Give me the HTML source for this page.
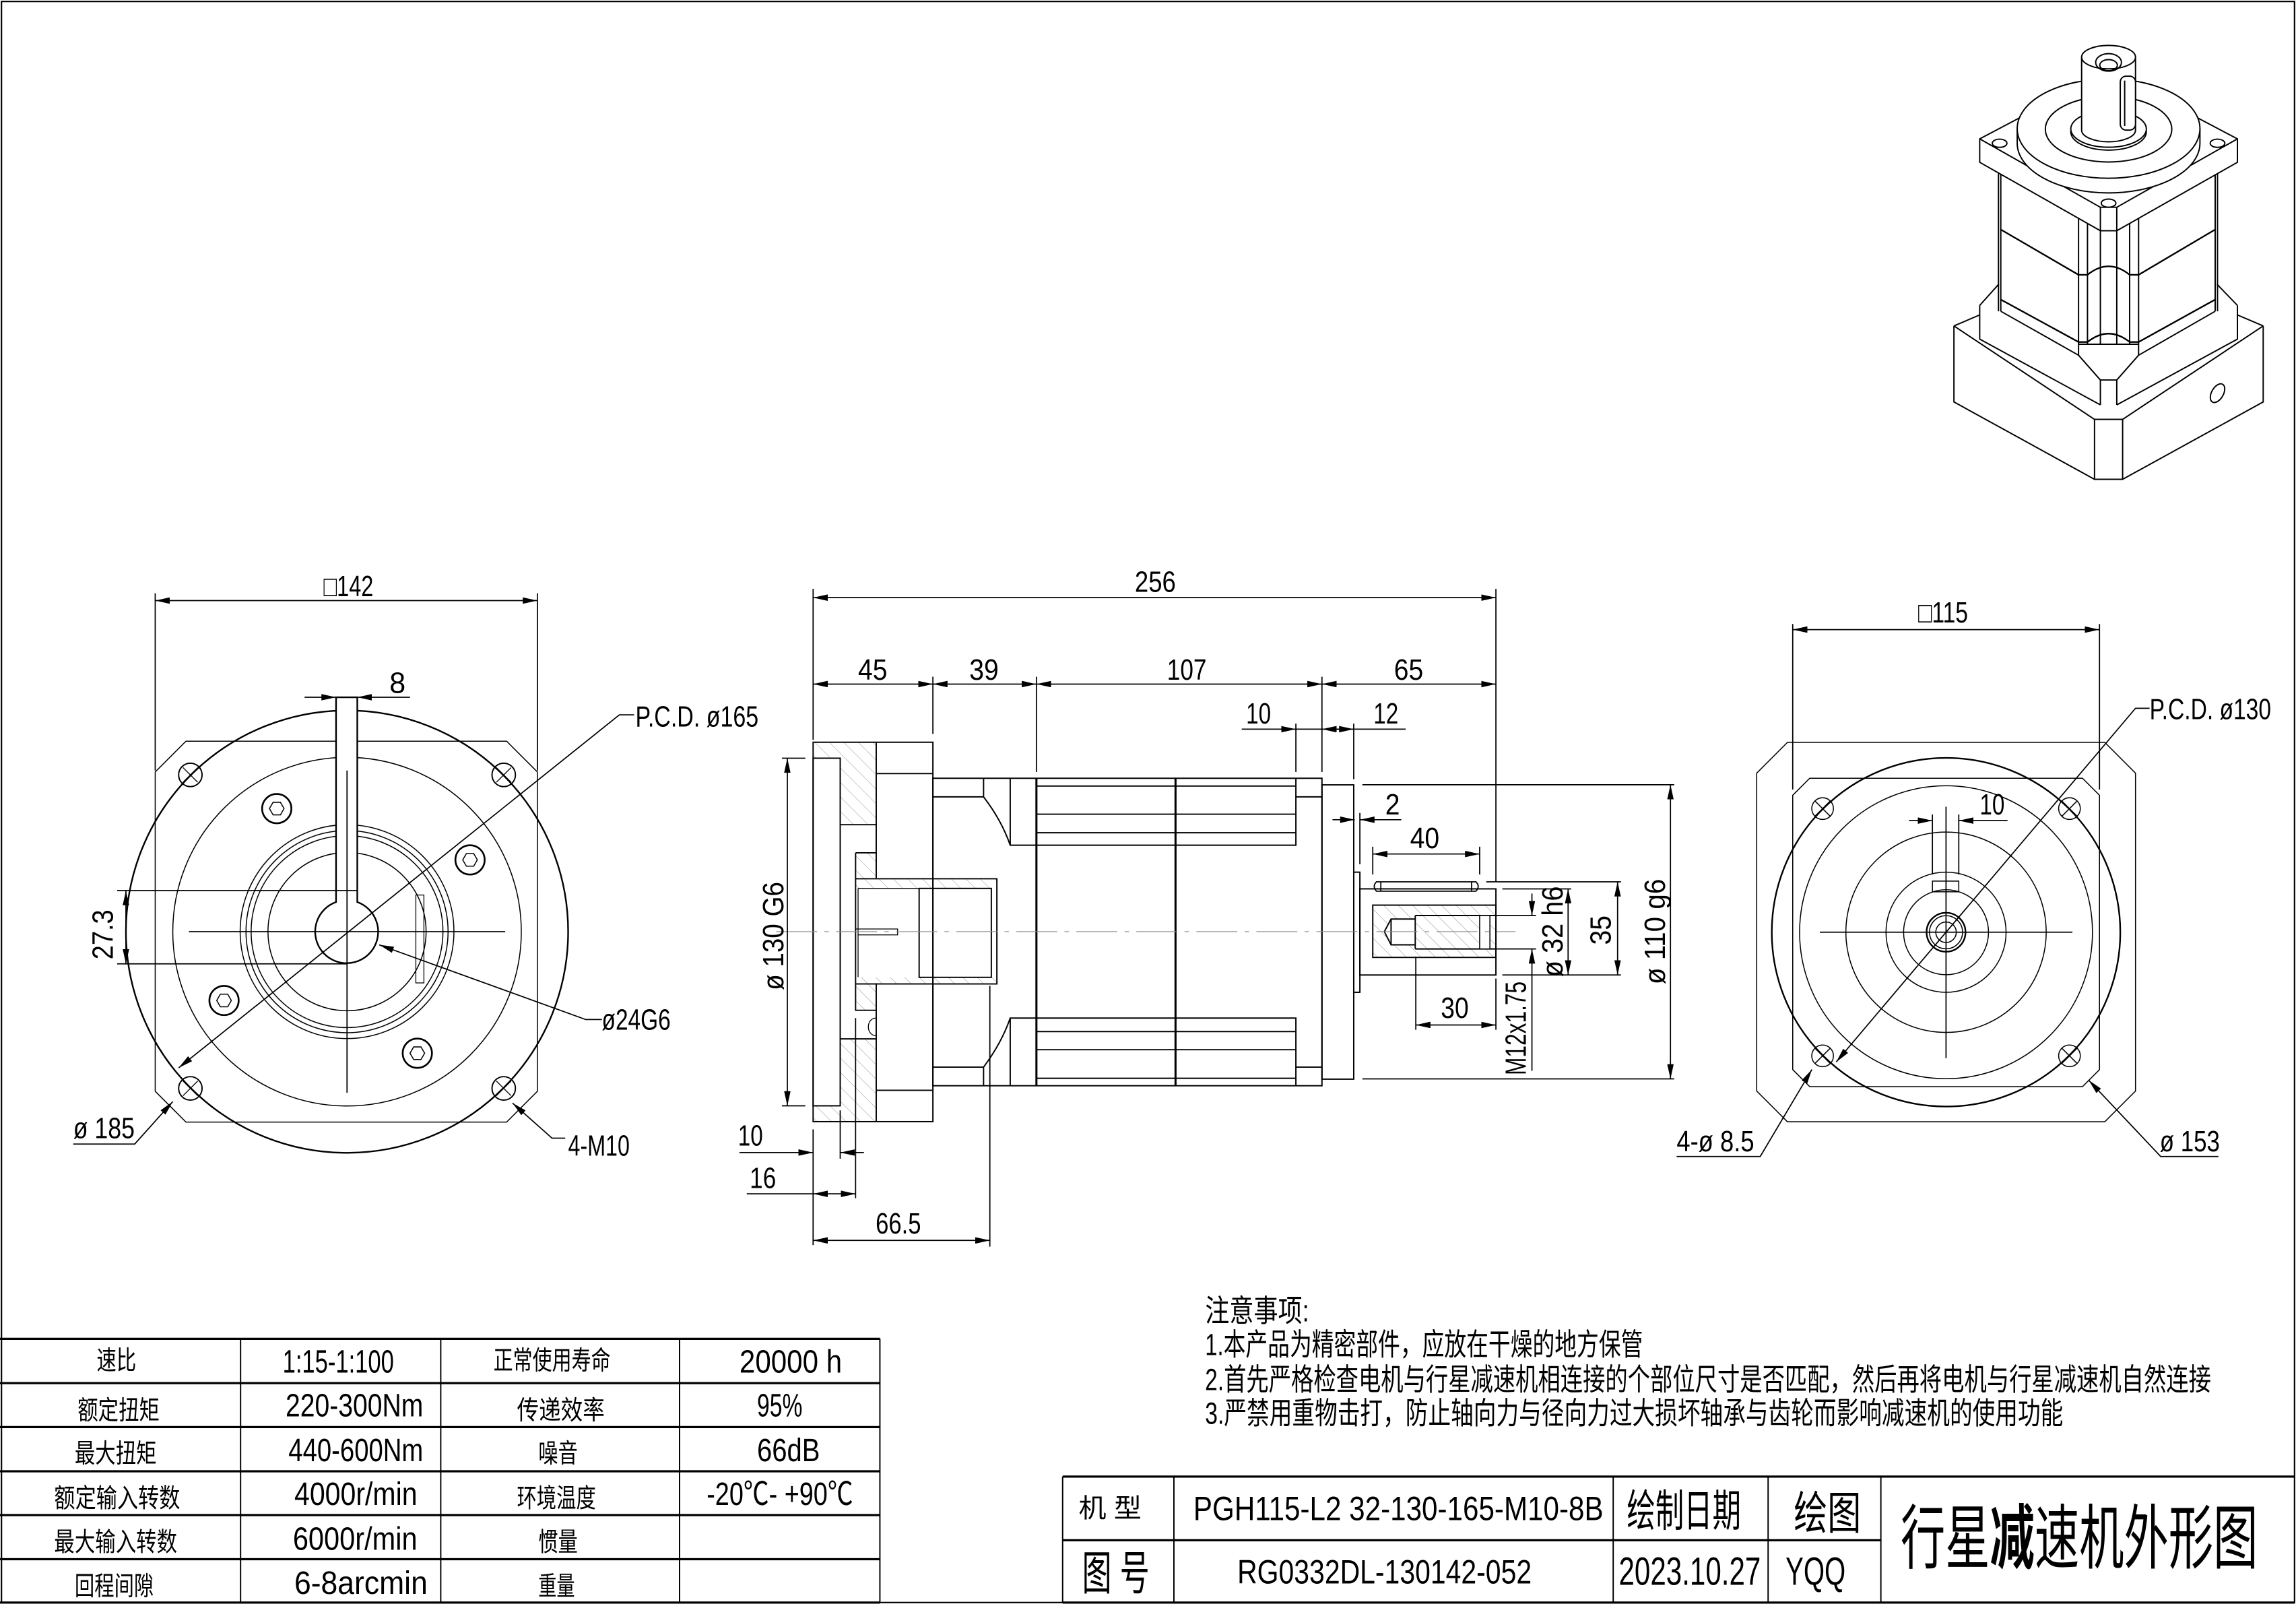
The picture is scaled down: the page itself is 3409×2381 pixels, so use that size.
<!DOCTYPE html>
<html><head><meta charset="utf-8"><style>
html,body{margin:0;padding:0;background:#fff}
svg{display:block}
text{font-family:"Liberation Sans","Noto Sans CJK SC",sans-serif;fill:#000}
</style></head><body>
<svg xmlns="http://www.w3.org/2000/svg" width="3409" height="2381" viewBox="0 0 1568 1095" preserveAspectRatio="none">
<defs>
<marker id="a" markerUnits="userSpaceOnUse" markerWidth="12" markerHeight="6" refX="10" refY="2.2" orient="auto-start-reverse"><path d="M0,0 L10,2.2 L0,4.4 z" fill="#000"/></marker>
<pattern id="h" patternUnits="userSpaceOnUse" width="7" height="7" patternTransform="rotate(-45)"><line x1="0" y1="0" x2="0" y2="7" stroke="#999" stroke-width="0.5"/></pattern>
</defs>
<rect x="0" y="0" width="1568" height="1095" fill="#fff"/>
<rect x="1" y="1" width="1566" height="1093" fill="none" stroke="#000" stroke-width="1"/>

<g fill="none" stroke="#000" stroke-width="0.9">
<!-- ============ LEFT VIEW ============ -->
<polygon points="127,506 346,506 367,527 367,745 346,766 127,766 106,745 106,527" stroke-width="0.7"/>
<circle cx="237" cy="636" r="151" stroke-width="1.1"/>
<circle cx="237" cy="636" r="119" stroke-width="0.7"/>
<g stroke-width="0.9">
<circle cx="130" cy="529" r="8"/><circle cx="344" cy="529" r="8"/><circle cx="130" cy="743" r="8"/><circle cx="344" cy="743" r="8"/>
<path d="M125,524 l10,10 M135,524 l-10,10 M339,524 l10,10 M349,524 l-10,10 M125,738 l10,10 M135,738 l-10,10 M339,738 l10,10 M349,738 l-10,10" stroke-width="0.6"/>
</g>
<g stroke-width="1.2">
<circle cx="189" cy="552" r="10"/><circle cx="321" cy="587" r="10"/><circle cx="153" cy="683" r="10"/><circle cx="285" cy="719" r="10"/>
</g>
<g stroke-width="0.7">
<polygon points="194,552 191.5,556.3 186.5,556.3 184,552 186.5,547.7 191.5,547.7"/>
<polygon points="326,587 323.5,591.3 318.5,591.3 316,587 318.5,582.7 323.5,582.7"/>
<polygon points="158,683 155.5,687.3 150.5,687.3 148,683 150.5,678.7 155.5,678.7"/>
<polygon points="290,719 287.5,723.3 282.5,723.3 280,719 282.5,714.7 287.5,714.7"/>
</g>
<g stroke-width="0.7">
<circle cx="237" cy="636" r="73"/><circle cx="237" cy="636" r="69"/><circle cx="237" cy="636" r="65.5"/><circle cx="237" cy="636" r="54"/>
</g>
<rect x="284" y="611" width="5.5" height="60" stroke-width="0.6"/>
<path d="M229.5,476 L229.5,615.8 A21.5,21.5 0 1 0 244,615.8 L244,476 Z" stroke-width="1.1" fill="#fff"/>
<line x1="237" y1="527" x2="237" y2="610" stroke-width="0.7"/>
<line x1="129" y1="636" x2="345" y2="636" stroke-width="0.8"/>
<line x1="237" y1="526" x2="237" y2="746" stroke-width="0.8"/>
<!-- dims left -->
<line x1="106" y1="405" x2="106" y2="526" stroke-width="0.8"/>
<line x1="367" y1="405" x2="367" y2="526" stroke-width="0.8"/>
<line x1="106" y1="410" x2="367" y2="410" stroke-width="0.8" marker-start="url(#a)" marker-end="url(#a)"/>
<line x1="208" y1="476" x2="229.5" y2="476" stroke-width="0.8" marker-end="url(#a)"/>
<line x1="280" y1="476" x2="244" y2="476" stroke-width="0.8" marker-end="url(#a)"/>
<line x1="80" y1="608" x2="244" y2="608" stroke-width="0.8"/>
<line x1="80" y1="658" x2="237" y2="658" stroke-width="0.8"/>
<line x1="86" y1="608" x2="86" y2="658" stroke-width="0.8" marker-start="url(#a)" marker-end="url(#a)"/>
<polyline points="122,729 423,488 433,488" stroke-width="0.8" marker-start="url(#a)"/>
<polyline points="259,645 400,696 411,696" stroke-width="0.8" marker-start="url(#a)"/>
<polyline points="118,752 92,781 50,781" stroke-width="0.8" marker-start="url(#a)"/>
<polyline points="350,753 377,777 386,777" stroke-width="0.8" marker-start="url(#a)"/>

<!-- ============ MIDDLE VIEW ============ -->
<path d="M555.3,506.7 L598.4,506.7 L598.4,563 L573.8,563 L573.8,517.6 L555.3,517.6 Z M555.3,754.9 L573.8,754.9 L573.8,709.2 L598.4,709.2 L598.4,765.7 L555.3,765.7 Z M584.3,582.2 L598.4,582.2 L598.4,599.9 L680.8,599.9 L680.8,606.5 L584.3,606.5 Z M584.3,667.2 L680.8,667.2 L680.8,671.7 L598.4,671.7 L598.4,689.7 L584.3,689.7 Z" fill="url(#h)" stroke="none"/>
<rect x="555.3" y="506.7" width="81.8" height="259" stroke-width="0.9"/>
<rect x="555.3" y="517.6" width="18.5" height="237.3" stroke-width="0.9"/>
<path d="M598.4,506.7 V599.4 M598.4,671.2 V765.7 M573.8,563 H598.4 M573.8,709.2 H598.4 M598.4,528.1 H637.1 M598.4,744.3 H637.1" stroke-width="0.9"/>
<path d="M584.3,582.2 H598.4 M584.3,582.2 V689.7 H598.4 M584.3,599.9 H680.8 V671.7 H584.3" stroke-width="0.9"/>
<rect x="627.7" y="606.5" width="49.3" height="60.7" stroke-width="0.9"/>
<path d="M586,606.5 H677 M586,606.5 V667 M584.3,634.2 H613 V638.2 H586" stroke-width="0.6"/>
<path d="M598,695 a5,6 0 0 0 0,12" stroke-width="0.6"/>
<!-- body -->
<rect x="637.1" y="531.3" width="265.7" height="209.9" stroke-width="0.9"/>
<path d="M671.7,531.3 V544 H637.1 M671.7,544 Q684,560 689.9,577 M689.9,531.3 V577 H885 V531.3 M671.7,741.2 V728.5 H637.1 M671.7,728.5 Q684,712 689.9,695 M689.9,741.2 V695 H885 V741.2 M885,544 H902.8 M885,728.5 H902.8" stroke-width="0.9"/>
<path d="M707.8,531.3 V741.2 M802.8,531.3 V741.2" stroke-width="1.4"/>
<path d="M707.8,536.6 H885 M707.8,555.8 H885 M707.8,568.5 H885 M707.8,704.2 H885 M707.8,716.6 H885 M707.8,736.1 H885" stroke-width="0.9"/>
<rect x="902.8" y="535.8" width="21.7" height="200.9" stroke-width="0.9"/>
<rect x="924.5" y="595.4" width="4.2" height="82" stroke-width="0.9"/>
<!-- shaft -->
<rect x="928.7" y="606.8" width="92.9" height="58.8" stroke-width="0.9"/>
<path d="M940,602 H1008 Q1011,605 1008,608.4 H940 Q937,605 940,602 Z M943,602 V608.4 M1005,602 V608.4" stroke-width="0.8"/>
<rect x="937.5" y="617.9" width="84.1" height="35.7" fill="url(#h)" stroke-width="0.9"/>
<path d="M966.5,625 H1021 M966.5,647.8 H1021 M966.5,625 V647.8 M966.5,627.4 H950 L945.4,636 L950,645 H966.5 M950,627.4 V645" stroke-width="0.9" fill="#fff"/>
<rect x="1010.5" y="625" width="7" height="22.8" stroke-width="0.7" fill="#fff"/>
<line x1="530" y1="636" x2="1035" y2="636" stroke="#888" stroke-width="0.5" stroke-dasharray="28,5,3,5"/>
<!-- middle dims -->
<path d="M555.3,402 V505 M1021.6,402 V602 M637.1,462 V501 M707.8,462 V527 M902.8,462 V527 M885,494 V527 M924.5,494 V532 M928.7,555 V590" stroke-width="0.8"/>
<line x1="555.3" y1="408" x2="1021.6" y2="408" stroke-width="0.8" marker-start="url(#a)" marker-end="url(#a)"/>
<line x1="555.3" y1="467" x2="637.1" y2="467" stroke-width="0.8" marker-start="url(#a)" marker-end="url(#a)"/>
<line x1="637.1" y1="467" x2="707.8" y2="467" stroke-width="0.8" marker-start="url(#a)" marker-end="url(#a)"/>
<line x1="707.8" y1="467" x2="902.8" y2="467" stroke-width="0.8" marker-start="url(#a)" marker-end="url(#a)"/>
<line x1="902.8" y1="467" x2="1021.6" y2="467" stroke-width="0.8" marker-start="url(#a)" marker-end="url(#a)"/>
<line x1="848" y1="497.8" x2="885" y2="497.8" stroke-width="0.8" marker-end="url(#a)"/>
<line x1="960" y1="497.8" x2="902.8" y2="497.8" stroke-width="0.8" marker-end="url(#a)"/>
<line x1="885" y1="497.8" x2="902.8" y2="497.8" stroke-width="0.8"/>
<line x1="910" y1="497.8" x2="924.5" y2="497.8" stroke-width="0.8" marker-end="url(#a)"/>
<line x1="910" y1="559.6" x2="925.2" y2="559.6" stroke-width="0.8" marker-end="url(#a)"/>
<line x1="957" y1="559.6" x2="928.7" y2="559.6" stroke-width="0.8" marker-end="url(#a)"/>
<path d="M534,517.6 H550 M534,754.9 H550" stroke-width="0.8"/>
<line x1="537.7" y1="517.6" x2="537.7" y2="754.9" stroke-width="0.8" marker-start="url(#a)" marker-end="url(#a)"/>
<path d="M555.3,771 V850 M573.8,758 V791 M584.3,695 V818 M676,673 V851" stroke-width="0.8"/>
<line x1="505" y1="786.8" x2="555.3" y2="786.8" stroke-width="0.8" marker-end="url(#a)"/>
<line x1="590" y1="786.8" x2="573.8" y2="786.8" stroke-width="0.8" marker-end="url(#a)"/>
<line x1="510" y1="815" x2="555.3" y2="815" stroke-width="0.8"/>
<line x1="555.3" y1="815" x2="584.3" y2="815" stroke-width="0.8" marker-start="url(#a)" marker-end="url(#a)"/>
<line x1="555.3" y1="846.8" x2="676" y2="846.8" stroke-width="0.8" marker-start="url(#a)" marker-end="url(#a)"/>
<path d="M937.5,578 V597 M1010.5,578 V597 M966.9,653 V703 M1021.6,668 V703" stroke-width="0.8"/>
<line x1="937.5" y1="583" x2="1010.5" y2="583" stroke-width="0.8" marker-start="url(#a)" marker-end="url(#a)"/>
<line x1="966.9" y1="699.7" x2="1021.6" y2="699.7" stroke-width="0.8" marker-start="url(#a)" marker-end="url(#a)"/>
<path d="M1018,625 H1049 M1018,647.8 H1049 M1026,606.8 H1073 M1026,665.6 H1107 M1015,602 H1107 M930.4,535.7 H1143.4 M930.4,736.5 H1143.4" stroke-width="0.8"/>
<line x1="1046.2" y1="610" x2="1046.2" y2="625" stroke-width="0.8" marker-end="url(#a)"/>
<line x1="1046.2" y1="731" x2="1046.2" y2="647.8" stroke-width="0.8" marker-end="url(#a)"/>
<line x1="1070.9" y1="606.8" x2="1070.9" y2="665.6" stroke-width="0.8" marker-start="url(#a)" marker-end="url(#a)"/>
<line x1="1104.7" y1="602" x2="1104.7" y2="665.6" stroke-width="0.8" marker-start="url(#a)" marker-end="url(#a)"/>
<line x1="1140.8" y1="535.7" x2="1140.8" y2="736.5" stroke-width="0.8" marker-start="url(#a)" marker-end="url(#a)"/>

<!-- ============ RIGHT VIEW ============ -->
<polygon points="1220.7,506.8 1437.4,506.8 1458.4,527.8 1458.4,744.8 1437.4,765.8 1220.7,765.8 1199.7,744.8 1199.7,527.8" stroke-width="0.7"/>
<polygon points="1235.9,531.3 1422.2,531.3 1433.8,542.9 1433.8,730.2 1422.2,741.8 1235.9,741.8 1224.3,730.2 1224.3,542.9" stroke-width="0.7"/>
<circle cx="1329" cy="636.4" r="119" stroke-width="1.1"/>
<g stroke-width="0.7">
<circle cx="1329" cy="636.4" r="100"/><circle cx="1329" cy="636.4" r="68.4"/><circle cx="1329" cy="636.4" r="41"/><circle cx="1329" cy="636.4" r="29"/>
<circle cx="1329" cy="636.4" r="13.3" stroke-width="1.1"/><circle cx="1329" cy="636.4" r="11.3"/><circle cx="1329" cy="636.4" r="7"/>
</g>
<g stroke-width="0.7">
<circle cx="1244.7" cy="552" r="7.4"/><circle cx="1413.3" cy="552" r="7.4"/><circle cx="1244.7" cy="720.8" r="7.4"/><circle cx="1413.3" cy="720.8" r="7.4"/>
<path d="M1239.7,547 l10,10 M1249.7,547 l-10,10 M1408.3,547 l10,10 M1418.3,547 l-10,10 M1239.7,715.8 l10,10 M1249.7,715.8 l-10,10 M1408.3,715.8 l10,10 M1418.3,715.8 l-10,10"/>
</g>
<rect x="1319.7" y="601.5" width="18" height="7.3" stroke-width="0.7"/>
<path d="M1242.8,636.4 H1415.3 M1329,550.7 V722.4" stroke-width="0.8"/>
<path d="M1224.3,426 V539 M1433.8,426 V539 M1319.7,556 V597 M1337.7,556 V597" stroke-width="0.8"/>
<line x1="1224.3" y1="429.8" x2="1433.8" y2="429.8" stroke-width="0.8" marker-start="url(#a)" marker-end="url(#a)"/>
<line x1="1303.7" y1="560.2" x2="1319.7" y2="560.2" stroke-width="0.8" marker-end="url(#a)"/>
<line x1="1371" y1="560.2" x2="1337.7" y2="560.2" stroke-width="0.8" marker-end="url(#a)"/>
<polyline points="1254,725 1458.4,483.5 1468,483.5" stroke-width="0.8" marker-start="url(#a)"/>
<polyline points="1426.4,737.4 1475.6,789.5 1515,789.5" stroke-width="0.8" marker-start="url(#a)"/>
<polyline points="1237.4,730.1 1202.1,789.5 1145,789.5" stroke-width="0.8" marker-start="url(#a)"/>

<!-- ============ 3D VIEW ============ -->
<g stroke-width="0.9" stroke-linejoin="round">
<!-- base -->
<path d="M1334.4,222.5 L1430.4,286.3 L1449.6,286.3 L1545.6,222.5 M1334.4,222.5 V274.4 L1430.4,327.2 H1449.6 L1545.6,274.4 V222.5 M1430.4,286.3 V327.2 M1449.6,286.3 V327.2 M1334.4,222.5 L1352,215 M1545.6,222.5 L1528,215"/>
<ellipse cx="1514.4" cy="268.4" rx="4" ry="7" transform="rotate(30 1514.4 268.4)"/>
<!-- adapter -->
<path d="M1352,208.5 V231.5 L1434.4,276.4 M1528,208.5 V231.5 L1445.6,276.4 M1352,208.5 L1365,194 M1528,208.5 L1514,194 M1419.5,242.5 L1434.4,259.4 H1445.6 L1460.5,242.5 M1434.4,259.4 V276.4 M1445.6,259.4 V276.4 M1419.5,235 H1460.5" fill="#fff"/>
<!-- body -->
<path d="M1364.8,116.8 V212.5 M1366.4,116.8 V212.5 M1512.8,116.8 V212.5 M1514.4,116.8 V212.5"/>
<path d="M1419.5,146.7 V242.5 M1425.6,146.7 V235 M1434.4,146.7 V235 M1445.6,146.7 V235 M1454.4,146.7 V235 M1460.5,146.7 V242.5 M1434.4,154.7 H1445.6 M1434.4,154.7 L1425.6,150 M1445.6,154.7 L1454.4,150"/>
<path d="M1366.4,156.7 L1419.5,187.6 H1425.6 Q1440,176 1454.4,187.6 H1460.5 L1512.8,156.7" stroke-width="1.1"/>
<path d="M1366.4,204.5 L1419.5,233.5 H1425.6 Q1440,222 1454.4,233.5 H1460.5 L1512.8,204.5" stroke-width="1.1"/>
<path d="M1366.4,212.5 L1419.5,242.5 M1512.8,212.5 L1460.5,242.5"/>
<!-- flange -->
<path d="M1352,94.8 L1434.4,141.5 H1445.6 L1528,94.8 V110.8 L1445.6,157.5 H1434.4 L1352,110.8 Z M1434.4,141.5 V157.5 M1445.6,141.5 V157.5 M1352,94.8 L1382,79 M1528,94.8 L1498,79" fill="#fff"/>
<ellipse cx="1365.6" cy="97.8" rx="5" ry="2.8"/><ellipse cx="1514.4" cy="97.8" rx="5" ry="2.8"/><ellipse cx="1440" cy="138.7" rx="5" ry="2.8"/>
<!-- disk -->
<path d="M1377.6,87.8 V97.8 A62.4,33.9 0 0 0 1502.4,97.8 V87.8" fill="#fff"/>
<ellipse cx="1440" cy="87.8" rx="62.4" ry="33.9" fill="#fff"/>
<ellipse cx="1440" cy="88.2" rx="43.2" ry="22.4"/>
<ellipse cx="1440" cy="90" rx="25.8" ry="12.5"/>
<ellipse cx="1440" cy="88" rx="25.8" ry="12.5" fill="#fff"/>
<!-- shaft -->
<path d="M1421.6,39 V88.8 A18.4,8 0 0 0 1458.4,88.8 V39" fill="#fff"/>
<ellipse cx="1440" cy="39" rx="18.4" ry="8" fill="#fff"/>
<ellipse cx="1440" cy="42.6" rx="8.8" ry="6"/>
<ellipse cx="1440" cy="44.5" rx="6" ry="3.8"/>
<rect x="1448" y="52" width="10.4" height="36.8" rx="4" fill="#fff"/>
<line x1="1451" y1="55" x2="1451" y2="86"/>
</g>

<!-- ============ TABLE ============ -->
<path d="M0,914 H601 M0,944.2 H601 M0,974.2 H601 M0,1004.4 H601 M0,1034.3 H601 M0,1064.4 H601 M0,1094 H601" stroke-width="1.5"/>
<path d="M164.3,914 V1094 M301,914 V1094 M464.1,914 V1094 M600.9,914 V1094" stroke-width="0.9"/>
<!-- title block -->
<path d="M725.7,1008 H1567 M725.7,1051.5 H1284.5 M725.7,1094 H1567" stroke-width="1.5"/>
<path d="M725.7,1008 V1094 M801.7,1008 V1094 M1101.7,1008 V1094 M1207.5,1008 V1094 M1284.5,1008 V1094" stroke-width="0.9"/>
</g>

<!-- ============ TEXT ============ -->
<g font-size="20">
<text x="221" y="407" textLength="34" lengthAdjust="spacingAndGlyphs">□142</text>
<text x="266" y="473" textLength="11" lengthAdjust="spacingAndGlyphs">8</text>
<text x="434" y="496" textLength="84" lengthAdjust="spacingAndGlyphs">P.C.D. ø165</text>
<text x="411" y="703" textLength="47" lengthAdjust="spacingAndGlyphs">ø24G6</text>
<text x="50" y="777" textLength="42" lengthAdjust="spacingAndGlyphs">ø 185</text>
<text x="388" y="789" textLength="42" lengthAdjust="spacingAndGlyphs">4-M10</text>
<text transform="translate(77,655) rotate(-90)" textLength="34" lengthAdjust="spacingAndGlyphs">27.3</text>

<text x="775" y="404" textLength="28" lengthAdjust="spacingAndGlyphs">256</text>
<text x="586" y="464" textLength="20" lengthAdjust="spacingAndGlyphs">45</text>
<text x="662" y="464" textLength="20" lengthAdjust="spacingAndGlyphs">39</text>
<text x="797" y="464" textLength="27" lengthAdjust="spacingAndGlyphs">107</text>
<text x="952" y="464" textLength="20" lengthAdjust="spacingAndGlyphs">65</text>
<text x="851" y="494" textLength="17" lengthAdjust="spacingAndGlyphs">10</text>
<text x="938" y="494" textLength="17" lengthAdjust="spacingAndGlyphs">12</text>
<text x="946" y="556" textLength="10" lengthAdjust="spacingAndGlyphs">2</text>
<text x="963" y="579" textLength="20" lengthAdjust="spacingAndGlyphs">40</text>
<text x="984" y="695" textLength="19" lengthAdjust="spacingAndGlyphs">30</text>
<text x="504" y="782" textLength="17" lengthAdjust="spacingAndGlyphs">10</text>
<text x="512" y="811" textLength="18" lengthAdjust="spacingAndGlyphs">16</text>
<text x="598" y="842" textLength="31" lengthAdjust="spacingAndGlyphs">66.5</text>
<text transform="translate(535,676) rotate(-90)" textLength="74" lengthAdjust="spacingAndGlyphs">ø 130 G6</text>
<text transform="translate(1067,667) rotate(-90)" textLength="62" lengthAdjust="spacingAndGlyphs">ø 32 h6</text>
<text transform="translate(1100,645) rotate(-90)" textLength="20" lengthAdjust="spacingAndGlyphs">35</text>
<text transform="translate(1137,672) rotate(-90)" textLength="72" lengthAdjust="spacingAndGlyphs">ø 110  g6</text>
<text transform="translate(1042,734) rotate(-90)" textLength="64" lengthAdjust="spacingAndGlyphs">M12x1.75</text>

<text x="1310" y="425" textLength="34" lengthAdjust="spacingAndGlyphs">□115</text>
<text x="1352" y="556" textLength="17" lengthAdjust="spacingAndGlyphs">10</text>
<text x="1468" y="491" textLength="83" lengthAdjust="spacingAndGlyphs">P.C.D. ø130</text>
<text x="1475" y="786" textLength="41" lengthAdjust="spacingAndGlyphs">ø 153</text>
<text x="1145" y="786" textLength="53" lengthAdjust="spacingAndGlyphs">4-ø 8.5</text>
</g>

<!-- table text -->
<g font-size="18">
<text x="66" y="935" textLength="27" lengthAdjust="spacingAndGlyphs">速比</text>
<text x="337" y="935" textLength="80" lengthAdjust="spacingAndGlyphs">正常使用寿命</text>
<text x="53" y="969" textLength="56" lengthAdjust="spacingAndGlyphs">额定扭矩</text>
<text x="353" y="969" textLength="60" lengthAdjust="spacingAndGlyphs">传递效率</text>
<text x="51" y="998.5" textLength="56" lengthAdjust="spacingAndGlyphs">最大扭矩</text>
<text x="367.6" y="998.5" textLength="27" lengthAdjust="spacingAndGlyphs">噪音</text>
<text x="37" y="1029" textLength="86" lengthAdjust="spacingAndGlyphs">额定输入转数</text>
<text x="353" y="1029" textLength="54" lengthAdjust="spacingAndGlyphs">环境温度</text>
<text x="37" y="1059" textLength="84" lengthAdjust="spacingAndGlyphs">最大输入转数</text>
<text x="367.6" y="1059" textLength="27" lengthAdjust="spacingAndGlyphs">惯量</text>
<text x="51" y="1089" textLength="54" lengthAdjust="spacingAndGlyphs">回程间隙</text>
<text x="367.6" y="1089" textLength="25" lengthAdjust="spacingAndGlyphs">重量</text>
</g>
<g font-size="22">
<text x="193" y="937" textLength="76" lengthAdjust="spacingAndGlyphs">1:15-1:100</text>
<text x="505" y="937" textLength="70" lengthAdjust="spacingAndGlyphs">20000  h</text>
<text x="195" y="967" textLength="94" lengthAdjust="spacingAndGlyphs">220-300Nm</text>
<text x="517" y="967" textLength="31" lengthAdjust="spacingAndGlyphs">95%</text>
<text x="197" y="997.5" textLength="92" lengthAdjust="spacingAndGlyphs">440-600Nm</text>
<text x="517" y="997.5" textLength="43" lengthAdjust="spacingAndGlyphs">66dB</text>
<text x="201" y="1027.4" textLength="84" lengthAdjust="spacingAndGlyphs">4000r/min</text>
<text x="482.6" y="1027.4" textLength="100" lengthAdjust="spacingAndGlyphs">-20℃-  +90℃</text>
<text x="200" y="1058" textLength="85" lengthAdjust="spacingAndGlyphs">6000r/min</text>
<text x="201" y="1088" textLength="91" lengthAdjust="spacingAndGlyphs">6-8arcmin</text>
</g>

<!-- notes -->
<g font-size="21">
<text x="823" y="902" textLength="71" lengthAdjust="spacingAndGlyphs">注意事项:</text>
<text x="823" y="925" textLength="299" lengthAdjust="spacingAndGlyphs">1.本产品为精密部件，应放在干燥的地方保管</text>
<text x="823" y="949" textLength="687" lengthAdjust="spacingAndGlyphs">2.首先严格检查电机与行星减速机相连接的个部位尺寸是否匹配，然后再将电机与行星减速机自然连接</text>
<text x="823" y="972" textLength="586" lengthAdjust="spacingAndGlyphs">3.严禁用重物击打，防止轴向力与径向力过大损坏轴承与齿轮而影响减速机的使用功能</text>
</g>

<!-- title block text -->
<text x="736.6" y="1036" font-size="18" textLength="43" lengthAdjust="spacingAndGlyphs">机 型</text>
<text x="815" y="1037.7" font-size="23" textLength="280" lengthAdjust="spacingAndGlyphs">PGH115-L2  32-130-165-M10-8B</text>
<text x="1111" y="1042" font-size="30" textLength="78" lengthAdjust="spacingAndGlyphs">绘制日期</text>
<text x="1225" y="1044" font-size="31" textLength="46" lengthAdjust="spacingAndGlyphs">绘图</text>
<text x="739" y="1085" font-size="32" textLength="46" lengthAdjust="spacingAndGlyphs">图 号</text>
<text x="845" y="1081" font-size="23" textLength="201" lengthAdjust="spacingAndGlyphs">RG0332DL-130142-052</text>
<text x="1105.5" y="1082" font-size="27" textLength="97" lengthAdjust="spacingAndGlyphs">2023.10.27</text>
<text x="1219.4" y="1082" font-size="27" textLength="41" lengthAdjust="spacingAndGlyphs">YQQ</text>
<text x="1298" y="1067" font-size="48" textLength="244" lengthAdjust="spacingAndGlyphs">行星<tspan font-weight="bold">减</tspan>速机外形图</text>
</svg>
</body></html>
